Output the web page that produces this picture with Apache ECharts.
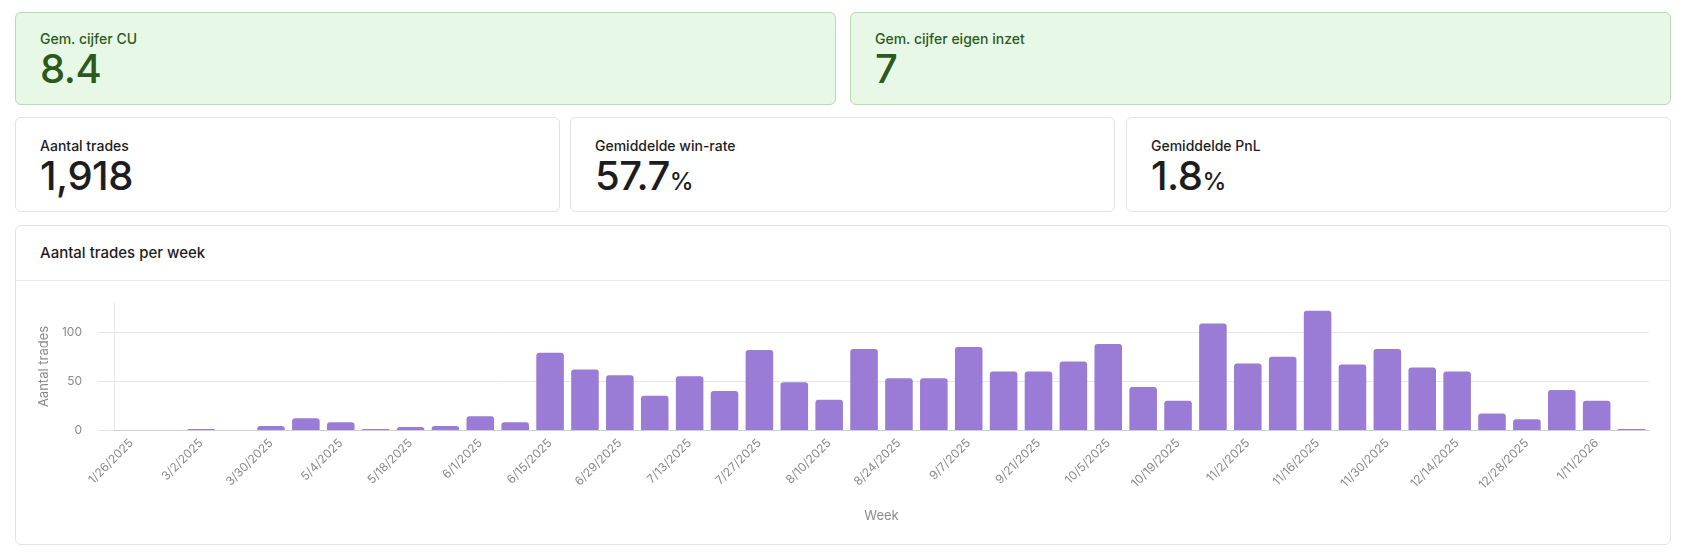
<!DOCTYPE html>
<html>
<head>
<meta charset="utf-8">
<title>Aantal trades per week</title>
<script src="https://cdn.jsdelivr.net/npm/echarts@6/dist/echarts.min.js"></script>
<style>
  html, body { margin:0; padding:0; width:1684px; height:552px; background:#fff; overflow:hidden;
    font-family: Inter, "Noto Sans", sans-serif; color:#1d1d1f; }
  .card { position:absolute; box-sizing:border-box; border:1px solid #e3e3e3; border-radius:6px; background:#fff; padding-left:24px; }
  .green { background:#e8f8e6; border-color:#b8dbb2; color:#2c5a1c; }
  .lbl { font-size:14px; line-height:20px; font-weight:500; }
  .val { font-size:40px; line-height:40px; font-weight:500; letter-spacing:-0.5px; }
  .val small { font-size:24px; font-weight:500; letter-spacing:0; }
  .head { position:absolute; left:0; right:0; top:0; height:55px; border-bottom:1px solid #ececec; box-sizing:border-box; }
  .head span { position:absolute; left:24px; top:17px; font-size:15px; line-height:20px; font-weight:500; }
  #main { position:absolute; left:0; top:55px; width:1654px; height:263px; }
</style>
</head>
<body>
<div class="card green" style="left:15px; top:12px; width:821px; height:93px; padding-top:16px;">
  <div class="lbl">Gem. cijfer CU</div><div class="val">8.4</div>
</div>
<div class="card green" style="left:850px; top:12px; width:821px; height:93px; padding-top:16px;">
  <div class="lbl">Gem. cijfer eigen inzet</div><div class="val">7</div>
</div>
<div class="card" style="left:15px; top:117px; width:545px; height:95px; padding-top:18px;">
  <div class="lbl">Aantal trades</div><div class="val">1,918</div>
</div>
<div class="card" style="left:570px; top:117px; width:545px; height:95px; padding-top:18px;">
  <div class="lbl">Gemiddelde win-rate</div><div class="val">57.7<small>%</small></div>
</div>
<div class="card" style="left:1126px; top:117px; width:545px; height:95px; padding-top:18px;">
  <div class="lbl">Gemiddelde PnL</div><div class="val">1.8<small>%</small></div>
</div>
<div class="card" style="left:15px; top:225px; width:1656px; height:320px; padding:0;">
  <div class="head"><span>Aantal trades per week</span></div>
  <div id="main"></div>
</div>
<script type="text/javascript">
    // weeks (start date) with their trade counts
    var weeks = [
        '1/26/2025','2/16/2025','3/2/2025','3/16/2025','3/30/2025','4/20/2025','5/4/2025','5/11/2025',
        '5/18/2025','5/25/2025','6/1/2025','6/8/2025','6/15/2025','6/22/2025','6/29/2025','7/6/2025',
        '7/13/2025','7/20/2025','7/27/2025','8/3/2025','8/10/2025','8/17/2025','8/24/2025','8/31/2025',
        '9/7/2025','9/14/2025','9/21/2025','9/28/2025','10/5/2025','10/12/2025','10/19/2025','10/26/2025',
        '11/2/2025','11/9/2025','11/16/2025','11/23/2025','11/30/2025','12/7/2025','12/14/2025','12/21/2025',
        '12/28/2025','1/4/2026','1/11/2026','1/18/2026'
    ];
    var trades = [
        0, 0, 1, 0, 4, 12, 8, 1,
        3, 4, 14, 8, 79, 62, 56, 35,
        55, 40, 82, 49, 31, 83, 53, 53,
        85, 60, 60, 70, 88, 44, 30, 109,
        68, 75, 122, 67, 83, 64, 60, 17,
        11, 41, 30, 1
    ];
    var yTicks = [0, 50, 100];
    var yMax = 130;

    var myChart = echarts.init(document.getElementById('main'));
    var options = {
        animation: false,
        textStyle: { fontFamily: 'Inter' },
        grid: { left: 98, right: 21, top: 22, bottom: 114 },
        xAxis: {
            type: 'category',
            data: weeks,
            name: 'Week',
            nameLocation: 'middle',
            nameGap: 80,
            nameTextStyle: { color: '#8a8a8e', fontSize: 13 },
            axisLine: { lineStyle: { color: '#cfcfcf' } },
            axisTick: { show: false },
            axisLabel: { interval: 1, rotate: 45, color: '#8a8a8e', fontSize: 12, margin: 11, overflow: 'none' }
        },
        yAxis: {
            type: 'value',
            min: 0,
            max: yMax,
            name: 'Aantal trades',
            nameLocation: 'middle',
            nameGap: 62,
            nameTextStyle: { color: '#8a8a8e', fontSize: 13 },
            axisLine: { show: true, lineStyle: { color: '#e6e6e6' } },
            axisTick: { show: true, length: 16, customValues: yTicks, lineStyle: { color: '#e6e6e6' } },
            axisLabel: { customValues: yTicks, color: '#8a8a8e', fontSize: 12, margin: 32 },
            splitLine: { lineStyle: { color: '#e6e6e6' } }
        },
        series: [
            {
                type: 'bar',
                data: trades,
                barCategoryGap: '21%',
                itemStyle: { color: '#9a7bd5', borderRadius: [3, 3, 0, 0] }
            }
        ]
    };
    myChart.setOption(options);
</script>
</body>
</html>
